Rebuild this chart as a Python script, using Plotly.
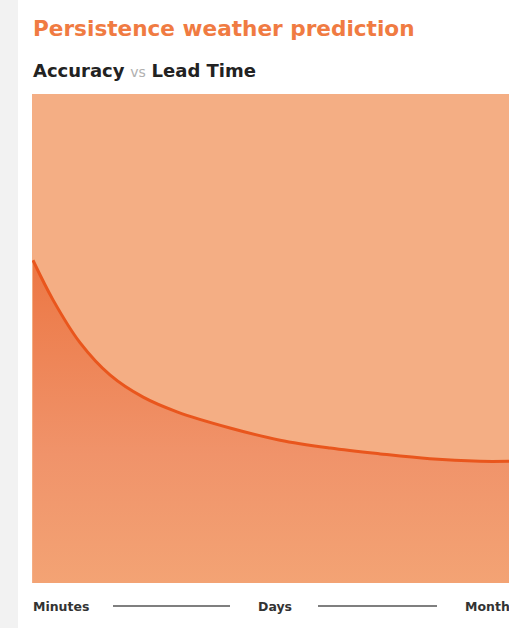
import plotly.graph_objects as go

# Lead time (0 = minutes ... 100 = months) and forecast accuracy (%)
lead_time = [0.2, 4.4, 10.1, 16.4, 23.3, 30.4, 41.5, 52.0, 62.5, 73.0, 83.4, 93.9, 100]
accuracy = [66.0, 57.9, 49.1, 42.5, 38.0, 35.0, 31.7, 29.2, 27.6, 26.4, 25.4, 24.9, 24.9]

scale_labels = ["Minutes", "Days", "Months"]
title_text = "Persistence weather prediction"

ORANGE_LINE = "#e9561d"
ORANGE_BG = "#f4ae84"
FONT = "DejaVu Sans"

fig = go.Figure()

fig.add_trace(go.Scatter(
    x=lead_time,
    y=accuracy,
    mode="lines",
    line=dict(color=ORANGE_LINE, width=3, shape="spline", smoothing=1.0),
    fill="tozeroy",
    fillgradient=dict(
        type="vertical",
        start=0,
        stop=66,
        colorscale=[[0, "#f3a374"], [0.4, "#f0936a"], [1, "#ec7744"]],
    ),
    hoverinfo="skip",
    showlegend=False,
))

W, H = 509, 628
ML, MR, MT, MB = 32, 0, 94, 45
pw = W - ML - MR
ph = H - MT - MB


def px_x(px):
    return (px - ML) / pw


def px_y(py):
    return (H - MB - py) / ph


shapes = [
    # light grey strip at the left page edge
    dict(type="rect", xref="paper", yref="paper",
         x0=px_x(-5), x1=px_x(18), y0=px_y(640), y1=px_y(-10),
         fillcolor="#f2f2f2", line=dict(width=0), layer="below"),
    # connector lines between the time-scale labels
    dict(type="line", xref="paper", yref="paper",
         x0=px_x(113), x1=px_x(230), y0=px_y(606), y1=px_y(606),
         line=dict(color="#555555", width=1.5)),
    dict(type="line", xref="paper", yref="paper",
         x0=px_x(318), x1=px_x(437), y0=px_y(606), y1=px_y(606),
         line=dict(color="#555555", width=1.5)),
]

annotations = [
    dict(text=f"<b>{title_text}</b>", xref="paper", yref="paper",
         x=px_x(31), y=px_y(29), xanchor="left", yanchor="middle", showarrow=False,
         font=dict(family=FONT, size=21.6, color="#f07b42")),
    dict(text="<b>Accuracy</b> <span style='color:#b0b0b0;font-size:14px'>vs</span> <b>Lead Time</b>",
         xref="paper", yref="paper",
         x=px_x(31), y=px_y(70), xanchor="left", yanchor="middle", showarrow=False,
         font=dict(family=FONT, size=18, color="#222222")),
]

label_pos = [31, 256, 463]
for lbl, lx in zip(scale_labels, label_pos):
    annotations.append(dict(
        text=f"<b>{lbl}</b>", xref="paper", yref="paper",
        x=px_x(lx), y=px_y(606), xanchor="left", yanchor="middle", showarrow=False,
        font=dict(family=FONT, size=12.5, color="#333333"),
    ))

fig.update_layout(
    width=W, height=H,
    margin=dict(l=ML, r=MR, t=MT, b=MB, pad=0),
    paper_bgcolor="white",
    plot_bgcolor=ORANGE_BG,
    xaxis=dict(range=[0, 100], visible=False, fixedrange=True),
    yaxis=dict(range=[0, 100], visible=False, fixedrange=True),
    shapes=shapes,
    annotations=annotations,
)

fig.write_html("out.html", config={"displayModeBar": False})
